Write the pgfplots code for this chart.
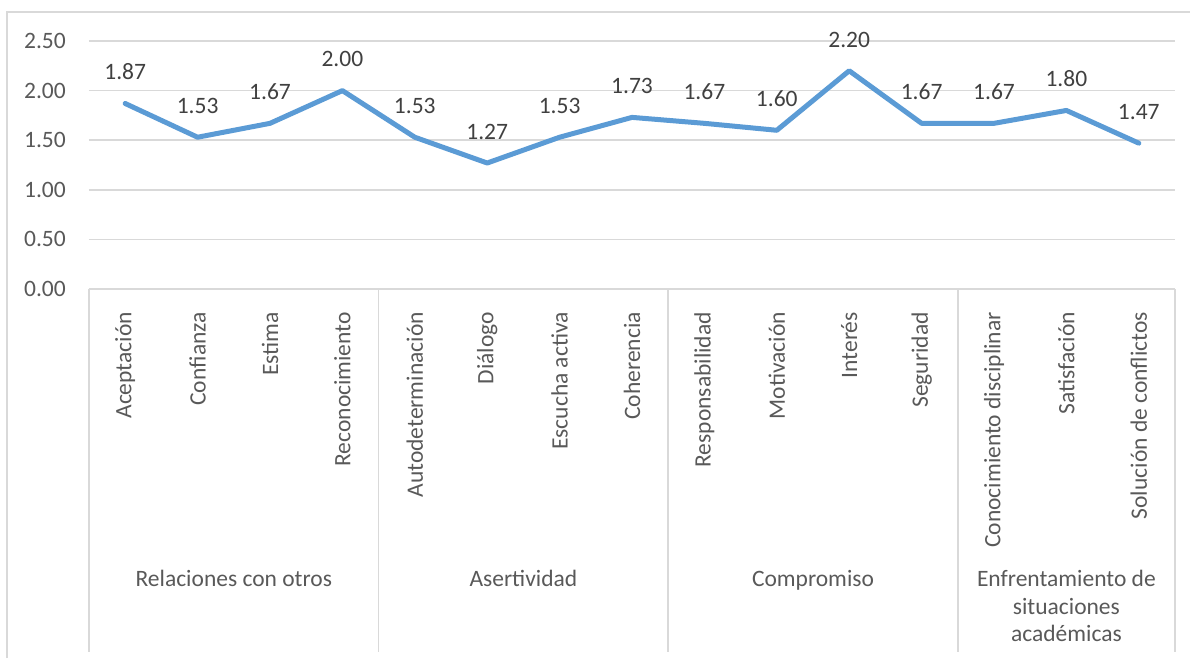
\documentclass[border=0pt]{standalone}
\usepackage{pgfplots}
\pgfplotsset{compat=1.18}
\usepackage{fontspec}
\setmainfont{Carlito}
\definecolor{lineblue}{RGB}{91,155,213}
\definecolor{gridgray}{RGB}{217,217,217}
\definecolor{txtgray}{RGB}{89,89,89}
\definecolor{lblgray}{RGB}{64,64,64}
\begin{document}
\begin{tikzpicture}[font=\fontsize{23.5}{28}\selectfont]
\begin{axis}[
  scale only axis, width=1086pt, height=248pt,
  xmin=-0.5, xmax=14.5, ymin=0, ymax=2.5,
  xtick={0,1,2,3,4,5,6,7,8,9,10,11,12,13,14},
  xticklabels={Aceptación,Confianza,Estima,Reconocimiento,Autodeterminación,Diálogo,Escucha activa,Coherencia,Responsabilidad,Motivación,Interés,Seguridad,Conocimiento disciplinar,Satisfación,Solución de conflictos},
  ytick={0,0.5,1,1.5,2,2.5},
  ymajorgrids, grid style={gridgray, line width=1.5pt},
  axis line style={draw=none},
  major tick length=0pt,
  tick label style={txtgray, font=\fontsize{23.5}{28}\selectfont},
  xticklabel style={rotate=90, anchor=east, inner sep=0pt},
  xticklabel shift=23pt,
  yticklabel style={anchor=east, inner sep=0pt},
  yticklabel shift=23pt,
  y tick label style={/pgf/number format/.cd, fixed, fixed zerofill, precision=2, assume math mode=true},
  clip=false,
  nodes near coords={\pgfmathprintnumber[fixed,fixed zerofill,precision=2,assume math mode=true]{\pgfplotspointmeta}},
  every node near coord/.append style={anchor=south, inner sep=0pt, yshift=21pt, lblgray, font=\fontsize{23.5}{28}\selectfont},
]
\draw[gridgray, line width=1.5pt] (axis cs:-0.5,0) -- (axis cs:14.5,0);
\pgfplotsinvokeforeach{-0.5,3.5,7.5,11.5,14.5}{
  \draw[gridgray, line width=1.5pt] (axis cs:#1,0) -- ++(0pt,-363pt);
}
\addplot[lineblue, line width=5pt, line cap=round, line join=round, mark=none] coordinates {
 (0,1.87) (1,1.53) (2,1.67) (3,2.00) (4,1.53) (5,1.27) (6,1.53) (7,1.73)
 (8,1.67) (9,1.60) (10,2.20) (11,1.67) (12,1.67) (13,1.80) (14,1.47)
};
\node[txtgray, anchor=base] at (axis cs:1.5,0) [yshift=-297pt] {Relaciones con otros};
\node[txtgray, anchor=base] at (axis cs:5.5,0) [yshift=-297pt] {Asertividad};
\node[txtgray, anchor=base] at (axis cs:9.5,0) [yshift=-297pt] {Compromiso};
\node[txtgray, anchor=base] at (axis cs:13,0) [yshift=-297pt] {Enfrentamiento de};
\node[txtgray, anchor=base] at (axis cs:13,0) [yshift=-325pt] {situaciones};
\node[txtgray, anchor=base] at (axis cs:13,0) [yshift=-352pt] {académicas};
\coordinate (NW) at (rel axis cs:0,1);
\coordinate (SE) at (rel axis cs:1,0);
\end{axis}
\draw[gridgray, line width=1.5pt] ([shift={(-82pt,-617pt)}]NW) -- ([shift={(-82pt,29pt)}]NW) -- ([shift={(1101pt,29pt)}]NW);
\pgfresetboundingbox
\useasboundingbox ([shift={(-89pt,41pt)}]NW) rectangle ([shift={(15pt,-369pt)}]SE);
\end{tikzpicture}
\end{document}
